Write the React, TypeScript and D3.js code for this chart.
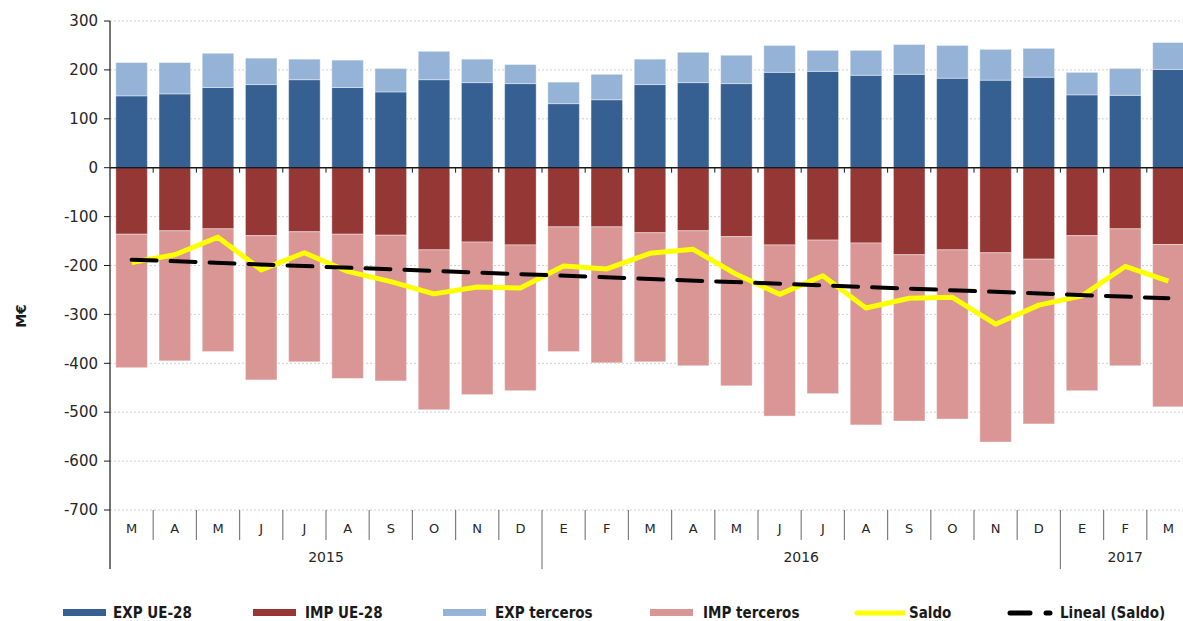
import React, { useMemo } from "react";
import * as d3 from "d3";

// Monthly foreign trade, M€ (March 2015 - March 2017)
const months = ["M", "A", "M", "J", "J", "A", "S", "O", "N", "D", "E", "F", "M", "A", "M", "J", "J", "A", "S", "O", "N", "D", "E", "F", "M"];
const yearLabels = ["2015", "2016", "2017"];
const yearSpans = [10, 12, 3];

const expUE = [147, 151, 164, 170, 180, 164, 155, 180, 174, 172, 131, 139, 170, 174, 172, 195, 197, 189, 191, 183, 179, 185, 149, 148, 201];
const expTer = [68, 64, 70, 54, 42, 56, 48, 58, 48, 39, 44, 52, 52, 62, 58, 55, 43, 51, 61, 67, 63, 59, 46, 55, 55];
const impUE = [-136, -129, -125, -139, -131, -136, -138, -168, -152, -158, -121, -121, -133, -129, -141, -158, -148, -154, -178, -168, -174, -187, -139, -125, -157];
const impTer = [-273, -266, -251, -295, -266, -295, -298, -327, -312, -298, -255, -278, -264, -276, -305, -350, -314, -372, -340, -346, -387, -337, -317, -280, -332];
const saldo = [-194, -178, -142, -209, -174, -212, -233, -258, -244, -246, -201, -207, -175, -167, -218, -259, -221, -287, -267, -265, -320, -281, -262, -202, -232];
// linear trend of Saldo: value at first and last month
const trendEnds = [-188, -267];

const yTicks = [300, 200, 100, 0, -100, -200, -300, -400, -500, -600, -700];

const series = [
  { key: "expUE", label: "EXP UE-28", color: "#366092", values: expUE },
  { key: "impUE", label: "IMP UE-28", color: "#953735", values: impUE },
  { key: "expTer", label: "EXP terceros", color: "#95b3d7", values: expTer },
  { key: "impTer", label: "IMP terceros", color: "#d99694", values: impTer },
];

const W = 1183;
const H = 621;
const margin = { top: 21, left: 110, bottom: 111 };
const plotRight = 1190;

export default function App() {
  const ids = months.map((_, i) => i);

  const x = d3.scaleBand<number>()
    .domain(ids)
    .range([margin.left, plotRight])
    .paddingInner(0.27)
    .paddingOuter(0.135);

  const y = d3.scaleLinear()
    .domain([-700, 300])
    .range([H - margin.bottom, margin.top]);

  const stacked = useMemo(() => {
    const rows = ids.map(i => {
      const r: Record<string, number> = {};
      series.forEach(s => (r[s.key] = s.values[i]));
      return r;
    });
    return d3.stack<Record<string, number>>()
      .keys(series.map(s => s.key))
      .offset(d3.stackOffsetDiverging)(rows);
  }, []);

  const cx = (i: number) => (x(i) as number) + x.bandwidth() / 2;

  const saldoLine = d3.line<number>()
    .x((_, i) => cx(i))
    .y(d => y(d))(saldo) || "";

  const trendLine = d3.line<number>()
    .x((_, i) => cx(i === 0 ? 0 : months.length - 1))
    .y(d => y(d))(trendEnds) || "";

  const step = x.step();
  const axisBottom = y(-700);
  const font = "'DejaVu Sans', Verdana, sans-serif";

  // year boundaries
  let acc = 0;
  const years = yearLabels.map((label, k) => {
    const start = acc;
    acc += yearSpans[k];
    return { label, start, end: acc };
  });

  const legend = [
    { label: "EXP UE-28", kind: "rect", color: "#366092", x: 63, tx: 113 },
    { label: "IMP UE-28", kind: "rect", color: "#953735", x: 253, tx: 305 },
    { label: "EXP terceros", kind: "rect", color: "#95b3d7", x: 443, tx: 495 },
    { label: "IMP terceros", kind: "rect", color: "#d99694", x: 650, tx: 703 },
    { label: "Saldo", kind: "line", color: "#ffff00", x: 857, tx: 909 },
    { label: "Lineal (Saldo)", kind: "dash", color: "#000000", x: 1008, tx: 1060 },
  ];

  return (
    <svg width={W} height={H} style={{ position: "absolute", left: 0, top: 0, background: "#fff" }}>
      {/* grid */}
      {yTicks.filter(t => t !== 0).map(t => (
        <line key={t} x1={margin.left} x2={plotRight} y1={y(t)} y2={y(t)}
          stroke="#d0d0d0" strokeWidth={1} strokeDasharray="2 2" />
      ))}

      {/* bars */}
      {stacked.map((layer, li) => (
        <g key={layer.key} fill={series[li].color}>
          {layer.map((d, i) => (
            <rect key={i} x={x(i)} width={x.bandwidth()}
              y={y(Math.max(d[0], d[1]))}
              height={Math.abs(y(d[0]) - y(d[1]))}
              stroke="#ffffff" strokeOpacity={0.4} strokeWidth={1} />
          ))}
        </g>
      ))}

      {/* zero line with ticks */}
      <line x1={margin.left} x2={plotRight} y1={y(0)} y2={y(0)} stroke="#1a1a1a" strokeWidth={1.5} />
      {ids.slice(1).map(i => (
        <line key={i} x1={margin.left + i * step} x2={margin.left + i * step} y1={y(0)} y2={y(0) + 5}
          stroke="#1a1a1a" strokeWidth={1} />
      ))}

      {/* saldo and trend */}
      <path d={saldoLine} fill="none" stroke="#ffff00" strokeWidth={5} strokeLinejoin="round" />
      <path d={trendLine} fill="none" stroke="#000000" strokeWidth={4} strokeDasharray="25 14" strokeLinecap="round" />

      {/* y axis */}
      <line x1={margin.left} x2={margin.left} y1={margin.top} y2={569} stroke="#1a1a1a" strokeWidth={1.2} />
      {yTicks.map(t => (
        <g key={t}>
          <line x1={margin.left - 6} x2={margin.left} y1={y(t)} y2={y(t)} stroke="#1a1a1a" strokeWidth={1} />
          <text x={margin.left - 12} y={y(t)} dy="0.35em" textAnchor="end" fontFamily={font} fontSize={15} fill="#262626">{t}</text>
        </g>
      ))}
      <text transform="translate(26,316) rotate(-90)" textAnchor="middle" fontFamily={font} fontSize={14} fontWeight="bold" fill="#1a1a1a">M€</text>

      {/* x axis: months */}
      {ids.slice(1).map(i => (
        <line key={i} x1={margin.left + i * step} x2={margin.left + i * step} y1={axisBottom} y2={540}
          stroke="#7f7f7f" strokeWidth={1.2} />
      ))}
      {months.map((m, i) => (
        <text key={i} x={cx(i)} y={528} dy="0.35em" textAnchor="middle" fontFamily={font} fontSize={13} fill="#262626">{m}</text>
      ))}
      {/* years */}
      {years.map((yr, k) => (
        <g key={yr.label}>
          {k > 0 && (
            <line x1={margin.left + yr.start * step} x2={margin.left + yr.start * step} y1={540} y2={569}
              stroke="#7f7f7f" strokeWidth={1.2} />
          )}
          <text x={margin.left + ((yr.start + yr.end) / 2) * step} y={557} dy="0.35em" textAnchor="middle"
            fontFamily={font} fontSize={14} fill="#262626">{yr.label}</text>
        </g>
      ))}

      {/* legend */}
      {legend.map(l => (
        <g key={l.label}>
          {l.kind === "rect" && <rect x={l.x} y={609} width={43} height={7} fill={l.color} />}
          {l.kind === "line" && <line x1={l.x} x2={l.x + 46} y1={613} y2={613} stroke={l.color} strokeWidth={5} strokeLinecap="round" />}
          {l.kind === "dash" && (
            <>
              <line x1={l.x + 2} x2={l.x + 22} y1={613} y2={613} stroke={l.color} strokeWidth={5} strokeLinecap="round" />
              <line x1={l.x + 38} x2={l.x + 42} y1={613} y2={613} stroke={l.color} strokeWidth={5} strokeLinecap="round" />
            </>
          )}
          <text x={l.tx} y={613} dy="0.36em" fontFamily="'DejaVu Sans Condensed', 'DejaVu Sans', sans-serif"
            fontSize={15} fontWeight="bold" fill="#1a1a1a">{l.label}</text>
        </g>
      ))}
    </svg>
  );
}
